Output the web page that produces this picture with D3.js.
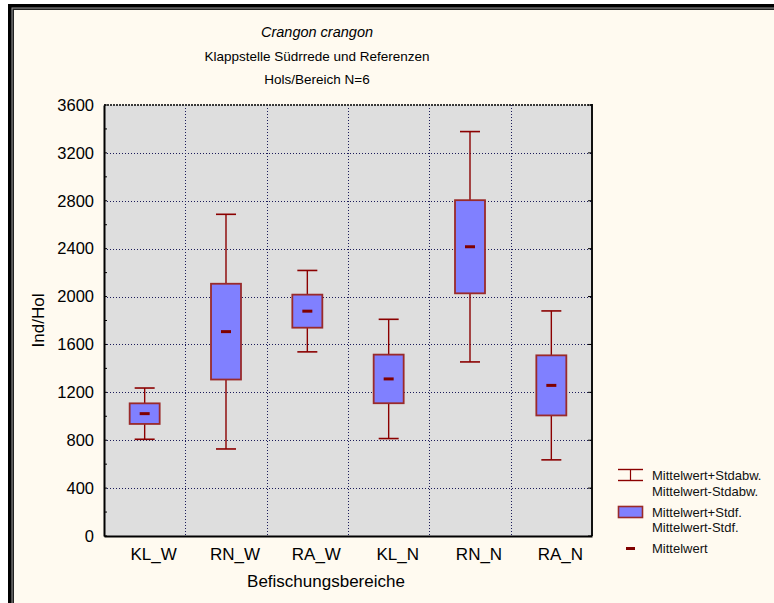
<!DOCTYPE html>
<html>
<head>
<meta charset="utf-8">
<script src="https://cdn.jsdelivr.net/npm/d3@7"></script>
<style>
  html, body { margin: 0; padding: 0; background: #ffffff; }
  svg { display: block; font-family: "Liberation Sans", Arial, sans-serif; }
</style>
</head>
<body>
<svg id="chart" width="774" height="603"></svg>
<script>
// Crangon crangon catch per haul, by fishing area (N=6 hauls each)
const categories = ["KL_W", "RN_W", "RA_W", "KL_N", "RN_N", "RA_N"];
const means      = [1022, 1707, 1878, 1312, 2416, 1258];
const stdDev     = [214, 980, 340, 498, 962, 622];
const stdErr     = [86, 400, 138, 203, 389, 251];
const yTicks     = [0, 400, 800, 1200, 1600, 2000, 2400, 2800, 3200, 3600];

const titleLines = ["Crangon crangon", "Klappstelle Südrrede und Referenzen", "Hols/Bereich N=6"];
const xTitle = "Befischungsbereiche";
const yTitle = "Ind/Hol";
const legendItems = [
  ["Mittelwert+Stdabw.", "Mittelwert-Stdabw."],
  ["Mittelwert+Stdf.", "Mittelwert-Stdf."],
  ["Mittelwert"]
];

const svg = d3.select("#chart");
const W = 774, H = 603;
const plot = { left: 104, top: 105, right: 592, bottom: 536 };

const red = "#8b0000";
const boxStroke = "#9a2a2a";
const boxFill = "#8080ff";

// page frame
svg.append("rect").attr("x", 0).attr("y", 0).attr("width", W).attr("height", H).attr("fill", "#ffffff");
svg.append("rect").attr("x", 8).attr("y", 4).attr("width", W).attr("height", H).attr("fill", "#000000");
svg.append("rect").attr("x", 11.5).attr("y", 7.5).attr("width", W).attr("height", H).attr("fill", "#9a9a9a");
svg.append("rect").attr("x", 12.5).attr("y", 8.5).attr("width", W).attr("height", H).attr("fill", "#222222");
svg.append("rect").attr("x", 14).attr("y", 10).attr("width", W).attr("height", H).attr("fill", "#fffaf0");

const x = d3.scaleBand().domain(categories).range([plot.left, plot.right]).padding(0);
const y = d3.scaleLinear().domain([0, 3600]).range([plot.bottom, plot.top]);

// plot background
svg.append("rect")
  .attr("x", plot.left).attr("y", plot.top)
  .attr("width", plot.right - plot.left).attr("height", plot.bottom - plot.top)
  .attr("fill", "#dedede");

// grid
const grid = svg.append("g").attr("stroke", "#1c1c5a").attr("stroke-width", 1).attr("stroke-dasharray", "1,2");
grid.selectAll("line.h").data(yTicks.slice(1, -1)).join("line")
  .attr("x1", plot.left).attr("x2", plot.right)
  .attr("y1", d => Math.round(y(d)) + 0.5).attr("y2", d => Math.round(y(d)) + 0.5);
grid.selectAll("line.v").data(categories.slice(1)).join("line")
  .attr("x1", d => Math.round(x(d)) + 0.5).attr("x2", d => Math.round(x(d)) + 0.5)
  .attr("y1", plot.top).attr("y2", plot.bottom);

// top and right frame of the plot area
svg.append("line").attr("x1", plot.left).attr("x2", plot.right).attr("y1", plot.top).attr("y2", plot.top)
  .attr("stroke", "#3a3a3a").attr("stroke-width", 2).attr("stroke-dasharray", "2,1");
svg.append("line").attr("x1", plot.right).attr("x2", plot.right).attr("y1", plot.top - 1).attr("y2", plot.bottom)
  .attr("stroke", "#111111").attr("stroke-width", 2);

// y axis
const yAxis = d3.axisLeft(y).tickValues(yTicks).tickSize(0).tickPadding(10).tickFormat(d3.format("d"));
const gy = svg.append("g").attr("transform", `translate(${plot.left},0)`).call(yAxis);
gy.select(".domain").attr("stroke", "#000").attr("stroke-width", 2);
gy.selectAll("text").attr("font-size", 16.5).attr("fill", "#000").attr("font-family", "Liberation Sans, Arial, sans-serif");

// minor ticks inside the left axis and major ticks on the right edge
svg.append("g").selectAll("line").data(d3.range(0, 3601, 200)).join("line")
  .attr("x1", plot.left).attr("x2", plot.left + 3)
  .attr("y1", d => y(d)).attr("y2", d => y(d))
  .attr("stroke", "#000").attr("stroke-width", 1);
svg.append("g").selectAll("line").data(yTicks).join("line")
  .attr("x1", plot.right - 4).attr("x2", plot.right)
  .attr("y1", d => y(d)).attr("y2", d => y(d))
  .attr("stroke", "#000").attr("stroke-width", 1);

// x axis
const xAxis = d3.axisBottom(x).tickSize(0).tickPadding(12);
const gx = svg.append("g").attr("transform", `translate(0,${plot.bottom})`).call(xAxis);
gx.select(".domain").attr("stroke", "#000").attr("stroke-width", 2);
gx.selectAll("text").attr("font-size", 17).attr("fill", "#000").attr("dx", 9)
  .attr("font-family", "Liberation Sans, Arial, sans-serif");

// whiskers: mean ± standard deviation
const boxes = svg.append("g");
const cx = d => x(d) + x.bandwidth() / 2;
const rows = categories.map((c, i) => ({ c, m: means[i], sd: stdDev[i], se: stdErr[i] }));

boxes.selectAll("line.whisk").data(rows).join("line")
  .attr("x1", d => cx(d.c)).attr("x2", d => cx(d.c))
  .attr("y1", d => y(d.m + d.sd)).attr("y2", d => y(d.m - d.sd))
  .attr("stroke", red).attr("stroke-width", 1.4);
boxes.selectAll("line.capT").data(rows).join("line")
  .attr("x1", d => cx(d.c) - 10).attr("x2", d => cx(d.c) + 10)
  .attr("y1", d => y(d.m + d.sd)).attr("y2", d => y(d.m + d.sd))
  .attr("stroke", red).attr("stroke-width", 1.6);
boxes.selectAll("line.capB").data(rows).join("line")
  .attr("x1", d => cx(d.c) - 10).attr("x2", d => cx(d.c) + 10)
  .attr("y1", d => y(d.m - d.sd)).attr("y2", d => y(d.m - d.sd))
  .attr("stroke", red).attr("stroke-width", 1.6);

// boxes: mean ± standard error
boxes.selectAll("rect").data(rows).join("rect")
  .attr("x", d => cx(d.c) - 15).attr("width", 30)
  .attr("y", d => y(d.m + d.se)).attr("height", d => y(d.m - d.se) - y(d.m + d.se))
  .attr("fill", boxFill).attr("stroke", boxStroke).attr("stroke-width", 1.8);

// mean markers
boxes.selectAll("line.mean").data(rows).join("line")
  .attr("x1", d => cx(d.c) - 5).attr("x2", d => cx(d.c) + 5)
  .attr("y1", d => y(d.m)).attr("y2", d => y(d.m))
  .attr("stroke", "#800000").attr("stroke-width", 3);

// titles
const tx = 317;
svg.append("text").attr("x", tx).attr("y", 37).attr("text-anchor", "middle")
  .attr("font-size", 14.5).attr("font-style", "italic").text(titleLines[0]);
svg.append("text").attr("x", tx).attr("y", 61).attr("text-anchor", "middle")
  .attr("font-size", 13.5).text(titleLines[1]);
svg.append("text").attr("x", tx).attr("y", 84).attr("text-anchor", "middle")
  .attr("font-size", 13.5).text(titleLines[2]);

// axis titles
svg.append("text").attr("x", 326).attr("y", 587).attr("text-anchor", "middle")
  .attr("font-size", 17).text(xTitle);
svg.append("text").attr("transform", `translate(44,${(plot.top + plot.bottom) / 2}) rotate(-90)`)
  .attr("text-anchor", "middle").attr("font-size", 17).text(yTitle);

// legend
const lg = svg.append("g");
lg.append("line").attr("x1", 618).attr("x2", 643).attr("y1", 469.5).attr("y2", 469.5).attr("stroke", red).attr("stroke-width", 1.4);
lg.append("line").attr("x1", 618).attr("x2", 643).attr("y1", 480.5).attr("y2", 480.5).attr("stroke", red).attr("stroke-width", 1.4);
lg.append("line").attr("x1", 630.5).attr("x2", 630.5).attr("y1", 469.5).attr("y2", 480.5).attr("stroke", red).attr("stroke-width", 1.2);
lg.append("rect").attr("x", 618.5).attr("y", 506.5).attr("width", 24).attr("height", 11)
  .attr("fill", boxFill).attr("stroke", boxStroke).attr("stroke-width", 1.6);
lg.append("line").attr("x1", 626).attr("x2", 635).attr("y1", 548.5).attr("y2", 548.5).attr("stroke", "#800000").attr("stroke-width", 3);

const legendBaselines = [[480, 495.5], [516.5, 532], [553]];
legendItems.forEach((lines, i) => {
  lines.forEach((t, j) => {
    lg.append("text").attr("x", 652).attr("y", legendBaselines[i][j])
      .attr("font-size", 13).attr("fill", "#111").text(t);
  });
});
</script>
</body>
</html>
